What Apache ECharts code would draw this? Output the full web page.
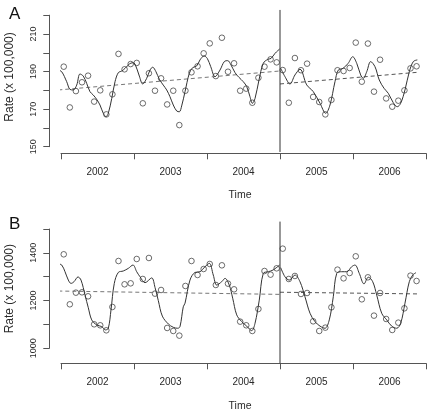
<!DOCTYPE html>
<html>
<head>
<meta charset="utf-8">
<script src="https://cdn.jsdelivr.net/npm/echarts@6/dist/echarts.min.js"></script>
<style>
html,body{margin:0;padding:0;background:#fff;}
#chart{width:430px;height:414px;}
</style>
</head>
<body>
<div id="chart"></div>
<script>
// ---------- DATA ----------
const years = ['2002', '2003', '2004', '2005', '2006'];
const startYear = 2002;
const interventionTime = 2005;

// Monthly observed rates, Jan 2002 - Nov 2006 (59 months)
const ratesA = [192.6,170.9,179.6,184.3,187.8,174.0,180.0,167.2,177.9,199.4,191.2,194.0,
  194.6,173.1,189.1,179.8,186.4,172.5,179.8,161.5,179.8,189.6,192.8,199.7,
  205.0,187.6,208.0,189.9,194.4,179.8,180.9,173.4,186.7,192.6,196.5,194.9,
  190.8,173.4,197.2,190.7,194.2,176.5,173.8,167.2,174.9,190.7,190.3,191.9,
  205.4,184.6,204.9,179.3,196.3,175.7,171.3,174.5,180.0,191.7,192.8];

const ratesB = [1393.9,1184.4,1233.2,1234.6,1217.9,1100.6,1096.4,1075.4,1173.2,1365.9,1268.2,1272.3,
  1374.3,1290.5,1378.5,1229.1,1244.4,1085.2,1072.6,1053.1,1261.2,1365.9,1307.3,1332.4,
  1353.4,1265.4,1347.8,1271.0,1247.2,1111.7,1096.4,1072.6,1164.8,1324.0,1308.7,1335.2,
  1417.6,1290.5,1303.1,1227.7,1231.8,1113.1,1072.6,1086.6,1171.8,1329.6,1293.3,1315.6,
  1385.5,1205.3,1297.5,1136.9,1231.8,1122.9,1076.8,1107.5,1167.6,1304.5,1282.1];

// Fitted smooth curve A (pre-intervention): times and values
const fitPreTimeA = [2001.963,2002.010,2002.078,2002.123,2002.168,2002.215,2002.260,2002.305,2002.352,2002.397,
  2002.442,2002.489,2002.534,2002.579,2002.616,2002.648,2002.695,2002.740,2002.785,2002.832,2002.877,2002.936,
  2002.982,2003.014,2003.073,2003.119,2003.174,2003.219,2003.256,2003.301,2003.347,2003.401,2003.448,2003.493,
  2003.538,2003.585,2003.621,2003.653,2003.699,2003.758,2003.804,2003.859,2003.904,2003.959,2004.004,2004.051,
  2004.110,2004.178,2004.237,2004.284,2004.329,2004.384,2004.438,2004.497,2004.544,2004.589,2004.621,2004.658,
  2004.712,2004.771,2004.832,2004.877,2004.932,2004.995];
const fitPreValA = [190.8,189.9,184.6,180.5,180.2,182.8,188.7,187.6,183.7,179.3,
  177.5,175.2,172.2,167.8,166.0,167.8,175.7,184.6,189.4,190.3,191.7,194.0,
  194.7,194.0,187.6,183.4,186.4,190.8,192.3,189.9,185.9,182.8,180.2,176.6,
  172.2,169.0,168.6,171.7,179.3,189.1,192.1,193.0,196.2,198.3,197.0,192.6,
  187.3,190.8,195.3,195.8,193.5,189.4,186.9,184.6,182.0,176.6,173.1,175.7,
  185.5,194.4,196.5,197.0,199.7,202.0];
// Fitted smooth curve A (post-intervention)
const fitPostTimeA = [2005.010,2005.068,2005.137,2005.205,2005.274,2005.366,2005.456,2005.548,2005.626,2005.685,
  2005.753,2005.799,2005.863,2005.934,2005.996,2006.051,2006.105,2006.141,2006.188,2006.242,2006.301,2006.360,
  2006.425,2006.484,2006.552,2006.607,2006.653,2006.712,2006.771,2006.826,2006.881];
const fitPostValA = [191.7,187.3,183.4,188.2,191.2,182.9,179.3,173.1,167.8,172.2,
  184.6,190.8,191.7,194.4,197.9,194.4,188.2,186.4,189.9,195.3,192.6,185.5,
  181.1,178.4,173.4,171.3,173.1,180.2,189.9,195.3,196.2];

// Fitted smooth curve B (pre-intervention)
const fitPreTimeB = [2001.963,2002.010,2002.055,2002.100,2002.137,2002.178,2002.233,2002.274,2002.329,2002.374,
  2002.421,2002.489,2002.558,2002.610,2002.648,2002.685,2002.730,2002.785,2002.853,2002.922,2002.986,2003.037,
  2003.082,2003.151,2003.242,2003.288,2003.333,2003.388,2003.470,2003.538,2003.599,2003.630,2003.675,2003.699,
  2003.767,2003.836,2003.904,2003.973,2004.032,2004.086,2004.133,2004.201,2004.247,2004.305,2004.352,2004.407,
  2004.475,2004.544,2004.612,2004.658,2004.716,2004.771,2004.840,2004.904,2004.995];
const fitPreValB = [1354,1349,1321,1286,1272,1279,1299,1286,1223,1170,
  1119,1098,1091,1077,1084,1161,1272,1318,1324,1335,1349,1321,
  1300,1275,1295,1255,1200,1135,1102,1088,1084,1091,1174,1189,
  1286,1318,1321,1342,1356,1307,1265,1279,1293,1265,1210,1140,
  1112,1093,1074,1105,1202,1314,1321,1328,1349];
// Fitted smooth curve B (post-intervention)
const fitPostTimeB = [2005.010,2005.068,2005.127,2005.205,2005.274,2005.342,2005.411,2005.479,2005.548,2005.616,
  2005.675,2005.730,2005.777,2005.845,2005.914,2005.982,2006.027,2006.086,2006.151,2006.210,2006.270,2006.325,
  2006.393,2006.462,2006.530,2006.599,2006.653,2006.712,2006.771,2006.818,2006.863];
const fitPostValB = [1338,1300,1286,1307,1279,1216,1147,1112,1093,1084,
  1119,1216,1314,1321,1321,1342,1349,1314,1270,1298,1279,1223,
  1147,1119,1093,1084,1105,1189,1279,1307,1317];

// Linear trend (dashed) segments: [start, end]
const trendPreTime = [2001.963, 2005.0];
const trendPostTime = [2005.0, 2006.881];
const trendPreA = [180.2, 190.3];
const trendPostA = [183.4, 189.6];
const trendPreB = [1240, 1226];
const trendPostB = [1235, 1228];

// Axis tick values
const yTicksA = {min: 150, max: 220, step: 10, labelStep: 20};
const yTicksB = {min: 1000, max: 1500, step: 100, labelStep: 200};
// Plot-region limits in data units (vertical intervention line extent)
const regionA = [147.2, 222.8];
const regionB = [937, 1531];

// ---------- BUILD ----------
const monthTime = i => startYear + (i + 0.45) / 12;
const pairs = (ts, vs) => ts.map((t, i) => [t, vs[i]]);
const pts = vs => vs.map((v, i) => [monthTime(i), v]);

const FONT = '"Liberation Sans", Arial, Helvetica, sans-serif';
const AX = '#555';
const TXT = '#2a2a2a';

function xCat(grid, offset, gap) {
  return {
    type: 'category', gridIndex: grid, data: years, position: 'bottom', offset: offset,
    boundaryGap: true,
    axisLine: {show: true, lineStyle: {color: AX, width: 1}},
    axisTick: {show: true, length: 6, interval: 0, lineStyle: {color: AX, width: 1}},
    axisLabel: {margin: 14, fontSize: 10, color: TXT, fontFamily: FONT, interval: 0},
    name: 'Time', nameLocation: 'middle', nameGap: gap,
    nameTextStyle: {fontSize: 10.5, color: TXT, fontFamily: FONT, padding: [0, 7, 0, 0]},
    splitLine: {show: false}
  };
}
function xVal(grid) {
  return {type: 'value', gridIndex: grid, min: 2002, max: 2007, show: false};
}
function yAx(grid, tk, namePad) {
  return {
    type: 'value', gridIndex: grid, min: tk.min, max: tk.max, interval: tk.step,
    offset: 11.7,
    axisLine: {show: true, lineStyle: {color: AX, width: 1}},
    axisTick: {show: true, length: 6, lineStyle: {color: AX, width: 1}},
    splitLine: {show: false},
    axisLabel: {
      rotate: 90, margin: 11, fontSize: 9, color: TXT, fontFamily: FONT,
      formatter: v => ((v - tk.min) % tk.labelStep === 0 && v < tk.max) ? String(v) : ''
    },
    name: 'Rate (x 100,000)', nameLocation: 'middle', nameGap: 34,
    nameTextStyle: {fontSize: 12, color: TXT, fontFamily: FONT, padding: namePad}
  };
}

function panelSeries(xi, yi, rates, preT, preV, postT, postV, tPre, tPost, region) {
  const lineBase = {type: 'line', xAxisIndex: xi, yAxisIndex: yi, showSymbol: false, symbol: 'none',
    clip: false, silent: true, animation: false};
  return [
    Object.assign({}, lineBase, {data: pairs(trendPreTime, tPre),
      lineStyle: {color: '#777', width: 1, type: [4, 3]}}),
    Object.assign({}, lineBase, {data: pairs(trendPostTime, tPost),
      lineStyle: {color: '#555', width: 1, type: [4, 3]}}),
    Object.assign({}, lineBase, {data: pairs(preT, preV), smooth: 0.35,
      lineStyle: {color: '#333', width: 1}}),
    Object.assign({}, lineBase, {data: pairs(postT, postV), smooth: 0.35,
      lineStyle: {color: '#333', width: 1}}),
    Object.assign({}, lineBase, {data: [[interventionTime, region[0]], [interventionTime, region[1]]],
      lineStyle: {color: '#333', width: 1}}),
    {type: 'scatter', xAxisIndex: xi, yAxisIndex: yi, data: pts(rates), symbol: 'circle', symbolSize: 5.6,
      clip: false, silent: true, animation: false,
      itemStyle: {color: 'rgba(0,0,0,0)', borderColor: '#333', borderWidth: 0.9}}
  ];
}

const option = {
  animation: false,
  backgroundColor: '#fff',
  textStyle: {fontFamily: FONT},
  title: [
    {text: 'A', left: 4, top: 1, textStyle: {fontSize: 17, fontWeight: 'normal', color: '#111', fontFamily: FONT}},
    {text: 'B', left: 4, top: 211, textStyle: {fontSize: 17, fontWeight: 'normal', color: '#111', fontFamily: FONT}}
  ],
  grid: [
    {left: 61, right: 4, top: 15.2, height: 131.5, containLabel: false, outerBoundsMode: 'none'},
    {left: 61, right: 4, top: 229, height: 119.3, containLabel: false, outerBoundsMode: 'none'}
  ],
  xAxis: [xVal(0), xCat(0, 6.6, 36), xVal(1), xCat(1, 15, 37)],
  yAxis: [yAx(0, yTicksA, [0, 0, 0, 8]), yAx(1, yTicksB, [0, 0, 0, 0])],
  series: [].concat(
    panelSeries(0, 0, ratesA, fitPreTimeA, fitPreValA, fitPostTimeA, fitPostValA, trendPreA, trendPostA, regionA),
    panelSeries(2, 1, ratesB, fitPreTimeB, fitPreValB, fitPostTimeB, fitPostValB, trendPreB, trendPostB, regionB)
  )
};

const chart = echarts.init(document.getElementById('chart'), null, {renderer: 'canvas'});
chart.setOption(option);
</script>
</body>
</html>
